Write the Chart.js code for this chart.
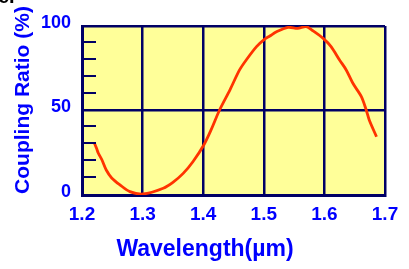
<!DOCTYPE html>
<html>
<head>
<meta charset="utf-8">
<script src="https://cdn.jsdelivr.net/npm/chart.js@4.4.1/dist/chart.umd.min.js"></script>
<style>
  html, body { margin: 0; padding: 0; background: #fff; }
  #wrap { width: 409px; height: 269px; }
</style>
</head>
<body>
<div id="wrap"><canvas id="chart" width="409" height="269"></canvas></div>
<script>
// wavelength (um) and coupling ratio (%)
const wavelength = [1.220, 1.224, 1.227, 1.233, 1.240, 1.249, 1.263, 1.279, 1.301, 1.334, 1.350, 1.367,
  1.383, 1.401, 1.413, 1.427, 1.444, 1.460, 1.471, 1.488, 1.501, 1.510, 1.521, 1.540, 1.556, 1.570,
  1.581, 1.598, 1.611, 1.625, 1.636, 1.647, 1.661, 1.669, 1.674, 1.686];
const couplingRatio = [31.1, 27.6, 24.7, 20.7, 14.8, 10.1, 5.9, 2.0, 0.6, 4.0, 7.5, 12.8,
  19.7, 29.6, 38.5, 50.3, 62.1, 74.0, 79.9, 87.8, 92.1, 94.1, 96.6, 99.2, 98.6, 99.6,
  97.2, 92.7, 87.8, 79.9, 74.0, 66.1, 58.2, 50.3, 44.4, 34.5];

const xTicks = [1.2, 1.3, 1.4, 1.5, 1.6, 1.7];
const yLabels = [0, 50, 100];
const yMinor = [10, 20, 30, 40, 60, 70, 80, 90];

const xTitle = 'Wavelength(\u00b5m)';
const yTitle = 'Coupling Ratio (%)';

const NAVY = '#000066';
const BLUE = '#0000ff';
const FONT = "'Liberation Sans', Arial, sans-serif";

const points = wavelength.map((w, i) => ({ x: w, y: couplingRatio[i] }));

// yellow plot area, short inside ticks, axis titles
const decor = {
    id: 'decor',
    beforeDraw(chart) {
        const { ctx, chartArea: a } = chart;
        ctx.save();
        ctx.fillStyle = '#ffff99';
        ctx.fillRect(a.left, a.top, a.right - a.left, a.bottom - a.top);
        ctx.restore();
    },
    afterDraw(chart) {
        const { ctx, chartArea: a } = chart;
        const y = chart.scales.y;
        ctx.save();
        ctx.strokeStyle = NAVY;
        ctx.lineWidth = 2;
        yMinor.forEach(v => {
            const py = Math.round(y.getPixelForValue(v)) - 1;
            ctx.beginPath();
            ctx.moveTo(a.left + 2, py);
            ctx.lineTo(a.left + 14, py);
            ctx.stroke();
        });

        // cut-off caption left over at the top edge
        ctx.fillStyle = '#000';
        ctx.font = 'bold 20px ' + FONT;
        ctx.fillText('e.', -2, 3);

        ctx.fillStyle = BLUE;
        ctx.textAlign = 'center';
        ctx.textBaseline = 'middle';
        ctx.font = 'bold 23px ' + FONT;
        ctx.fillText(xTitle, 205, 250);

        ctx.translate(23, 100);
        ctx.rotate(-Math.PI / 2);
        ctx.font = 'bold 21px ' + FONT;
        ctx.fillText(yTitle, 0, 0);
        ctx.restore();
    }
};

new Chart(document.getElementById('chart'), {
    type: 'line',
    data: {
        datasets: [{
            data: points,
            borderColor: '#ff3300',
            borderWidth: 2.8,
            pointRadius: 0,
            tension: 0.3,
            fill: false
        }]
    },
    options: {
        responsive: false,
        animation: false,
        layout: { padding: { top: 26, right: 24, left: 0, bottom: 0 } },
        plugins: { legend: { display: false }, tooltip: { enabled: false } },
        scales: {
            x: {
                type: 'linear',
                min: 1.2,
                max: 1.7,
                afterBuildTicks: (s) => { s.ticks = xTicks.map(v => ({ value: v })); },
                afterFit: (s) => { s.height = 74; },
                grid: { color: NAVY, lineWidth: 2.5, drawTicks: false },
                border: { color: NAVY, width: 3 },
                ticks: {
                    color: BLUE,
                    padding: 8,
                    font: { family: FONT, size: 19, weight: 'bold' },
                    callback: (v) => v.toFixed(1)
                }
            },
            y: {
                min: 0,
                max: 100,
                afterBuildTicks: (s) => { s.ticks = yLabels.map(v => ({ value: v })); },
                afterFit: (s) => { s.width = 82; },
                grid: { color: NAVY, lineWidth: 2.5, drawTicks: false },
                border: { color: NAVY, width: 3 },
                ticks: {
                    color: BLUE,
                    padding: 11,
                    labelOffset: -3,
                    font: { family: FONT, size: 18, weight: 'bold' }
                }
            }
        }
    },
    plugins: [decor]
});
</script>
</body>
</html>
